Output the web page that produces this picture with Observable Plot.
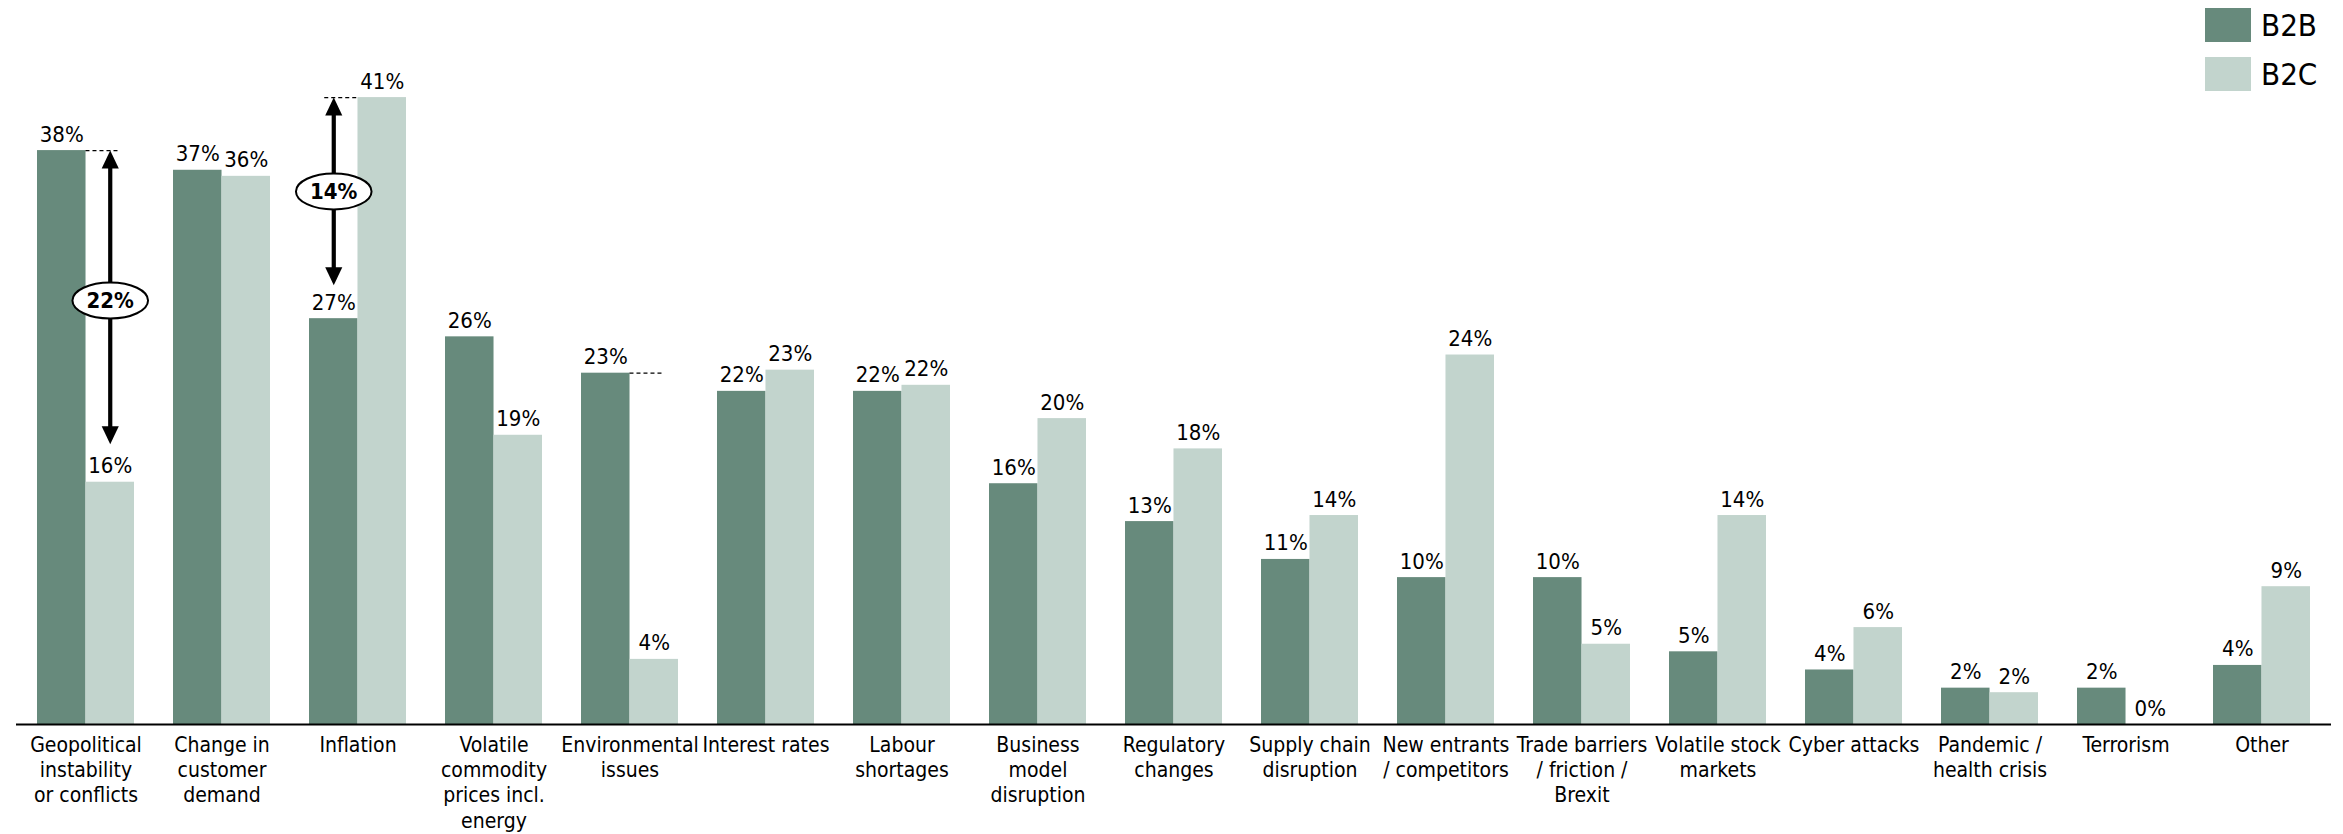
<!DOCTYPE html>
<html>
<head>
<meta charset="utf-8">
<script src="https://cdn.jsdelivr.net/npm/d3@7"></script>
<script src="https://cdn.jsdelivr.net/npm/@observablehq/plot@0.6"></script>
<style>
  body { margin: 0; background: white; }
  #wrap { position: relative; width: 2343px; height: 834px; font-family: 'DejaVu Sans Condensed', 'DejaVu Sans', sans-serif; }
  #legend { position: absolute; left: 2205px; top: 8px; }
  .row { display: flex; align-items: center; height: 34px; margin-bottom: 15px; }
  .sw { width: 46px; height: 34px; margin-right: 10px; }
  .lab { font-size: 31px; color: #000; line-height: 34px; }
</style>
</head>
<body>
<div id="wrap">
  <div id="chart"></div>
  <div id="legend"></div>
</div>
<script>
// ---- data ----
const categories = [
  "Geopolitical instability or conflicts", "Change in customer demand", "Inflation",
  "Volatile commodity prices incl. energy", "Environmental issues", "Interest rates",
  "Labour shortages", "Business model disruption", "Regulatory changes",
  "Supply chain disruption", "New entrants / competitors", "Trade barriers / friction / Brexit",
  "Volatile stock markets", "Cyber attacks", "Pandemic / health crisis", "Terrorism", "Other"
];
const tickLabels = [
  "Geopolitical\ninstability\nor conflicts", "Change in\ncustomer\ndemand", "Inflation",
  "Volatile\ncommodity\nprices incl.\nenergy", "Environmental\nissues", "Interest rates",
  "Labour\nshortages", "Business\nmodel\ndisruption", "Regulatory\nchanges",
  "Supply chain\ndisruption", "New entrants\n/ competitors", "Trade barriers\n/ friction /\nBrexit",
  "Volatile stock\nmarkets", "Cyber attacks", "Pandemic /\nhealth crisis", "Terrorism", "Other"
];
const seriesNames = ["B2B", "B2C"];
const b2b = [37.9, 36.6, 26.8, 25.6, 23.2, 22.0, 22.0, 15.9, 13.4, 10.9, 9.7, 9.7, 4.8, 3.6, 2.4, 2.4, 3.9];
const b2c = [16.0, 36.2, 41.4, 19.1, 4.3, 23.4, 22.4, 20.2, 18.2, 13.8, 24.4, 5.3, 13.8, 6.4, 2.1, 0.0, 9.1];
const b2bLabels = ["38%","37%","27%","26%","23%","22%","22%","16%","13%","11%","10%","10%","5%","4%","2%","2%","4%"];
const b2cLabels = ["16%","36%","41%","19%","4%","23%","22%","20%","18%","14%","24%","5%","14%","6%","2%","0%","9%"];

// gap annotations (double arrows with an ellipse label)
const gaps = [
  {category: categories[0], series: "B2C", from: 37.9, to: 18.5, labelAt: 28.0, text: "22%"},
  {category: categories[2], series: "B2B", from: 41.4, to: 29.0, labelAt: 35.2, text: "14%"}
];
// dashed reference lines at the top of a bar
const dashes = [
  {category: categories[0], value: 37.9, from: "B2B"},
  {category: categories[2], value: 41.4, from: "B2C"},
  {category: categories[4], value: 23.2, from: "B2B"}
];

// ---- styling ----
const colors = {B2B: "#678a7c", B2C: "#c2d4cd"};
const W = 2343, H = 834, mL = 16, mR = 12, mT = 88, mB = 110;
const padIn = 0.288, padOut = 0.144;
const bw = d3.scaleBand().domain(categories).range([mL, W - mR]).paddingInner(padIn).paddingOuter(padOut).bandwidth();
const half = bw / 2, quarter = bw / 4;

const rowsB2B = categories.map((c, i) => ({category: c, value: b2b[i], label: b2bLabels[i]}));
const rowsB2C = categories.map((c, i) => ({category: c, value: b2c[i], label: b2cLabels[i]}));
const ticks = categories.map((c, i) => ({category: c, label: tickLabels[i]}));

const ellipse = {
  draw(ctx, size) {
    const r = Math.sqrt(size / Math.PI), rx = r * 2.1, ry = r, k = 0.5523;
    ctx.moveTo(rx, 0);
    ctx.bezierCurveTo(rx, ry * k, rx * k, ry, 0, ry);
    ctx.bezierCurveTo(-rx * k, ry, -rx, ry * k, -rx, 0);
    ctx.bezierCurveTo(-rx, -ry * k, -rx * k, -ry, 0, -ry);
    ctx.bezierCurveTo(rx * k, -ry, rx, -ry * k, rx, 0);
    ctx.closePath();
  }
};
// arrowheads: tip at the point
const headUp = {
  draw(ctx, size) {
    const r = Math.sqrt(size / Math.PI), w = r * 0.95, h = r * 2;
    ctx.moveTo(0, 0); ctx.lineTo(w, h); ctx.lineTo(-w, h); ctx.closePath();
  }
};
const headDown = {
  draw(ctx, size) {
    const r = Math.sqrt(size / Math.PI), w = r * 0.95, h = r * 2;
    ctx.moveTo(0, 0); ctx.lineTo(w, -h); ctx.lineTo(-w, -h); ctx.closePath();
  }
};

const gapMarks = gaps.flatMap(g => {
  const dx = g.series === "B2B" ? -quarter : quarter;
  return [
    Plot.ruleX([g], {x: "category", y1: "from", y2: "to", dx, stroke: "black", strokeWidth: 4.2, insetTop: 8, insetBottom: 8}),
    Plot.dot([g], {x: "category", y: "from", dx, r: 9, symbol: headUp, fill: "black", stroke: "none"}),
    Plot.dot([g], {x: "category", y: "to", dx, r: 9, symbol: headDown, fill: "black", stroke: "none"}),
    Plot.dot([g], {x: "category", y: "labelAt", dx, r: 18, symbol: ellipse, fill: "white", stroke: "black", strokeWidth: 2}),
    Plot.text([g], {x: "category", y: "labelAt", dx, text: "text", fontWeight: "bold", fontSize: 22, fill: "black"})
  ];
});

const dashMarks = dashes.map(d => Plot.tickY([d], {
  x: "category", y: "value",
  insetLeft: d.from === "B2B" ? half : quarter - 9,
  insetRight: d.from === "B2B" ? quarter - 10 : half,
  stroke: "black", strokeWidth: 1.2, strokeDasharray: "4,3"
}));

const chart = Plot.plot({
  width: W, height: H,
  marginLeft: mL, marginRight: mR, marginTop: mT, marginBottom: mB,
  style: {fontFamily: "'DejaVu Sans Condensed', 'DejaVu Sans', sans-serif", fontSize: "21px", color: "black", background: "white", overflow: "visible"},
  x: {domain: categories, paddingInner: padIn, paddingOuter: padOut, axis: null},
  y: {domain: [0, 42], axis: null},
  marks: [
    Plot.barY(rowsB2B, {x: "category", y: "value", fill: colors.B2B, insetLeft: 0, insetRight: half}),
    Plot.barY(rowsB2C, {x: "category", y: "value", fill: colors.B2C, insetLeft: half, insetRight: 0}),
    ...dashMarks,
    Plot.text(rowsB2B, {x: "category", y: "value", text: "label", dx: -quarter, dy: -9, lineAnchor: "bottom", fontSize: 22, fill: "black"}),
    Plot.text(rowsB2C, {x: "category", y: "value", text: "label", dx: quarter, dy: -9, lineAnchor: "bottom", fontSize: 22, fill: "black"}),
    ...gapMarks,
    Plot.ruleY([0], {stroke: "black", strokeWidth: 2}),
    Plot.text(ticks, {x: "category", frameAnchor: "bottom", text: "label", lineAnchor: "top", dy: 9, lineHeight: 1.21, fontSize: 21, fill: "black"})
  ]
});
document.getElementById("chart").appendChild(chart);

const legend = document.getElementById("legend");
seriesNames.forEach(s => {
  const row = document.createElement("div");
  row.className = "row";
  row.innerHTML = `<div class="sw" style="background:${colors[s]}"></div><div class="lab">${s}</div>`;
  legend.appendChild(row);
});
</script>
</body>
</html>
